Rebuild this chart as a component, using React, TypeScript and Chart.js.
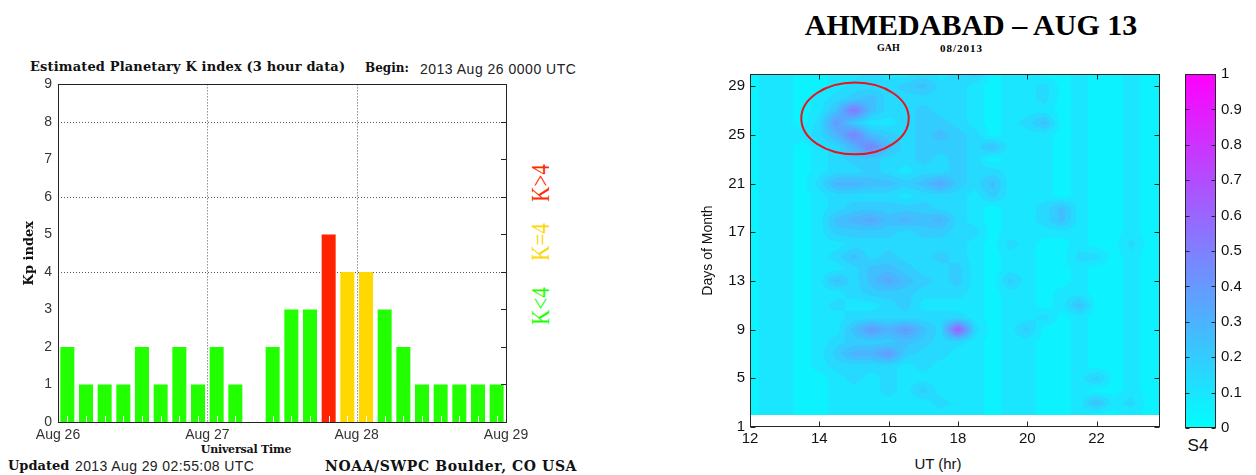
import React, { useEffect, useRef } from 'react';
import { Chart, registerables } from 'chart.js';

Chart.register(...registerables);

// ---------------- Left chart: Estimated Planetary K index ----------------
// start hour (from 2013 Aug 26 00 UT) of each 3-hour interval, and its Kp
const kpStartHours = [0, 3, 6, 9, 12, 15, 18, 21, 24, 27, 30, 33, 36, 39, 42, 45, 48, 51, 54, 57, 60, 63, 66, 69];
const kpValues = [2, 1, 1, 1, 2, 1, 2, 1, 2, 1, 0, 2, 3, 3, 5, 4, 4, 3, 2, 1, 1, 1, 1, 1];
const kpYTicks = [0, 1, 2, 3, 4, 5, 6, 7, 8, 9];
const kpDayHours = [0, 24, 48, 72];
const kpDayLabels = ['Aug 26', 'Aug 27', 'Aug 28', 'Aug 29'];
const kpDottedLevels = [4, 6, 8];
const kpDottedHours = [24, 48];
const KP_INTERVAL = 3;

// ---------------- Right chart: S4 over Ahmedabad ----------------
const s4Hours = [12, 12.5, 13, 13.5, 14, 14.5, 15, 15.5, 16, 16.5, 17, 17.5, 18, 18.5, 19, 19.5, 20, 20.5, 21, 21.5, 22, 22.5, 23, 23.5];
const s4Days = [30, 29, 28, 27, 26, 25, 24, 23, 22, 21, 20, 19, 18, 17, 16, 15, 14, 13, 12, 11, 10, 9, 8, 7, 6, 5, 4, 3, 2];
// each character = S4 band (hex digit k => S4 in [k*0.05, (k+1)*0.05)), one row per day, one char per half hour
const s4Rows = [
  '122112232232341221121121', // 30
  '122112333453321223121121', // 29
  '122123453333321223121121', // 28
  '122125B53343321222121121', // 27
  '122138422344321235121121', // 26
  '122236A54345431222121121', // 25
  '1221236A5344435222121121', // 24
  '122123443343431222121121', // 23
  '122123343233433222121121', // 22
  '122136655457435222121121', // 21
  '122123333233324222121121', // 20
  '122123444443321223521121', // 19
  '122125675656321223521121', // 18
  '122124444344331222221121', // 17
  '122122333333321321121131', // 16
  '122123534334321221133121', // 15
  '122122355433421221121121', // 14
  '122125357543421421121121', // 13
  '122122344433321221221121', // 12
  '122123223422221221251121', // 11
  '122122333333321223121121', // 10
  '122122586853D31241121121', // 9
  '122123444543321221121121', // 8
  '122124668433221221121121', // 7
  '122123333232221221121121', // 6
  '122112323222221221124121', // 5
  '122112223242221221121121', // 4
  '122112222223221221125231', // 3
  '122112222222221221121121', // 2
];
const s4XTicks = [12, 14, 16, 18, 20, 22];
const s4YTicks = [1, 5, 9, 13, 17, 21, 25, 29];
const s4BarTicks = [0, 0.1, 0.2, 0.3, 0.4, 0.5, 0.6, 0.7, 0.8, 0.9, 1];
const circleCenter = { hour: 15.03, day: 26.35 };
const circleRadius = { hour: 1.55, day: 2.95 };

const S4_BAND = 0.05;
const s4Grid = s4Rows.map((r) => r.split('').map((c) => (parseInt(c, 16) + 0.5) * S4_BAND));

function cool(t: number): [number, number, number] {
  const v = Math.max(0, Math.min(1, t));
  return [Math.round(255 * v), Math.round(255 * (1 - v)), 255];
}

function fracIndex(arr: number[], v: number): number {
  const n = arr.length;
  for (let i = 0; i < n - 1; i++) {
    const a = arr[i];
    const b = arr[i + 1];
    if ((v - a) * (v - b) <= 0) return i + (v - a) / (b - a);
  }
  const dFirst = Math.abs(v - arr[0]);
  const dLast = Math.abs(v - arr[n - 1]);
  return dFirst < dLast ? 0 : n - 1;
}

const SANS = "'Liberation Sans', Arial, sans-serif";
const SERIF_B = "'DejaVu Serif', serif";

const kpColor = (v: number) => (v > 4 ? '#ff2200' : v === 4 ? '#ffd800' : '#22ff00');

const kpDecor = {
  id: 'kpDecor',
  beforeDatasetsDraw(chart: any) {
    const { ctx, chartArea: a, scales } = chart;
    const ys = scales.y;
    const xs = scales.x;
    ctx.save();
    ctx.strokeStyle = '#555';
    ctx.lineWidth = 1;
    ctx.setLineDash([1, 2]);
    kpDottedLevels.forEach((v) => {
      const py = Math.round(ys.getPixelForValue(v)) + 0.5;
      ctx.beginPath();
      ctx.moveTo(a.left, py);
      ctx.lineTo(a.right, py);
      ctx.stroke();
    });
    kpDottedHours.forEach((h) => {
      const px = Math.round(xs.getPixelForValue(h)) + 0.5;
      ctx.beginPath();
      ctx.moveTo(px, a.top);
      ctx.lineTo(px, a.bottom);
      ctx.stroke();
    });
    ctx.restore();
  },
  afterDatasetsDraw(chart: any) {
    const { ctx, chartArea: a, scales } = chart;
    const xs = scales.x;
    const ys = scales.y;
    ctx.save();
    ctx.lineWidth = 1;
    ctx.strokeStyle = '#ffffff';
    kpStartHours.forEach((h) => {
      const px = Math.round(xs.getPixelForValue(h + KP_INTERVAL / 2)) + 0.5;
      ctx.beginPath();
      ctx.moveTo(px, a.bottom - 6);
      ctx.lineTo(px, a.bottom);
      ctx.stroke();
    });
    ctx.strokeStyle = '#222';
    ctx.strokeRect(Math.round(a.left) + 0.5, Math.round(a.top) + 0.5, Math.round(a.right - a.left), Math.round(a.bottom - a.top));
    kpYTicks.forEach((v) => {
      const py = Math.round(ys.getPixelForValue(v)) + 0.5;
      ctx.beginPath();
      ctx.moveTo(a.right, py);
      ctx.lineTo(a.right - 5, py);
      ctx.stroke();
    });
    ctx.restore();
  },
};

const heatPlugin = {
  id: 'heat',
  beforeDatasetsDraw(chart: any) {
    const { ctx, chartArea: a, scales } = chart;
    const xs = scales.x;
    const ys = scales.y;
    const left = Math.round(a.left);
    const top = Math.round(a.top);
    const w = Math.round(a.right) - left;
    const h = Math.round(a.bottom) - top;
    const off = document.createElement('canvas');
    off.width = w;
    off.height = h;
    const octx = off.getContext('2d')!;
    const img = octx.createImageData(w, h);
    const minDay = Math.min(...s4Days);
    const maxDay = Math.max(...s4Days);
    const colF: number[] = [];
    for (let i = 0; i < w; i++) colF.push(fracIndex(s4Hours, xs.getValueForPixel(left + i + 0.5)));
    for (let j = 0; j < h; j++) {
      const day = ys.getValueForPixel(top + j + 0.5);
      if (day < minDay || day > maxDay + 0.5) continue;
      const rf = fracIndex(s4Days, day);
      const r0 = Math.floor(rf);
      const r1 = Math.min(r0 + 1, s4Days.length - 1);
      const fr = rf - r0;
      for (let i = 0; i < w; i++) {
        const cf = colF[i];
        const c0 = Math.floor(cf);
        const c1 = Math.min(c0 + 1, s4Hours.length - 1);
        const fc = cf - c0;
        const v =
          s4Grid[r0][c0] * (1 - fr) * (1 - fc) +
          s4Grid[r0][c1] * (1 - fr) * fc +
          s4Grid[r1][c0] * fr * (1 - fc) +
          s4Grid[r1][c1] * fr * fc;
        const band = Math.floor(v / S4_BAND);
        // filled contour: each band painted with the colour of its lower level
        const [r, g, b] = cool(band * S4_BAND);
        const k = (j * w + i) * 4;
        img.data[k] = r;
        img.data[k + 1] = g;
        img.data[k + 2] = b;
        img.data[k + 3] = 255;
      }
    }
    octx.putImageData(img, 0, 0);
    ctx.drawImage(off, left, top);
  },
  afterDatasetsDraw(chart: any) {
    const { ctx, chartArea: a, scales } = chart;
    const xs = scales.x;
    const ys = scales.y;
    ctx.save();
    const cx = xs.getPixelForValue(circleCenter.hour);
    const cy = ys.getPixelForValue(circleCenter.day);
    const rx = Math.abs(xs.getPixelForValue(circleCenter.hour + circleRadius.hour) - cx);
    const ry = Math.abs(ys.getPixelForValue(circleCenter.day + circleRadius.day) - cy);
    ctx.strokeStyle = '#e8141c';
    ctx.lineWidth = 2;
    ctx.beginPath();
    ctx.ellipse(cx, cy, rx, ry, 0, 0, Math.PI * 2);
    ctx.stroke();
    ctx.lineWidth = 1;
    ctx.strokeStyle = '#262626';
    const L = Math.round(a.left) + 0.5;
    const T = Math.round(a.top) + 0.5;
    const R = Math.round(a.right) - 0.5;
    const B = Math.round(a.bottom) - 0.5;
    ctx.strokeRect(L, T, R - L, B - T);
    s4XTicks.forEach((v) => {
      const px = Math.round(xs.getPixelForValue(v)) + 0.5;
      ctx.beginPath();
      ctx.moveTo(px, B);
      ctx.lineTo(px, B - 5);
      ctx.moveTo(px, T);
      ctx.lineTo(px, T + 5);
      ctx.stroke();
    });
    s4YTicks.forEach((v) => {
      const py = Math.round(ys.getPixelForValue(v)) + 0.5;
      ctx.beginPath();
      ctx.moveTo(L, py);
      ctx.lineTo(L + 5, py);
      ctx.moveTo(R, py);
      ctx.lineTo(R - 5, py);
      ctx.stroke();
    });
    ctx.restore();
  },
};

const barPlugin = {
  id: 'colorbar',
  beforeDatasetsDraw(chart: any) {
    const { ctx, chartArea: a, scales } = chart;
    const ys = scales.y;
    const y0 = ys.getPixelForValue(0);
    const y1 = ys.getPixelForValue(1);
    const grad = ctx.createLinearGradient(0, y0, 0, y1);
    const c0 = cool(0);
    const c1 = cool(1);
    grad.addColorStop(0, `rgb(${c0[0]},${c0[1]},${c0[2]})`);
    grad.addColorStop(1, `rgb(${c1[0]},${c1[1]},${c1[2]})`);
    ctx.save();
    ctx.fillStyle = grad;
    ctx.fillRect(a.left, y1, a.right - a.left, y0 - y1);
    ctx.strokeStyle = '#262626';
    ctx.lineWidth = 1;
    const L = Math.round(a.left) + 0.5;
    const R = Math.round(a.right) - 0.5;
    ctx.strokeRect(L, Math.round(y1) + 0.5, R - L, Math.round(y0 - y1) - 1);
    s4BarTicks.forEach((v) => {
      const py = Math.round(ys.getPixelForValue(v)) + 0.5;
      ctx.beginPath();
      ctx.moveTo(L, py);
      ctx.lineTo(L + 4, py);
      ctx.moveTo(R, py);
      ctx.lineTo(R - 4, py);
      ctx.stroke();
    });
    ctx.restore();
  },
};

function kpConfig(): any {
  return {
    type: 'bar',
    data: {
      datasets: [
        {
          data: kpStartHours.map((h, i) => ({ x: h + KP_INTERVAL / 2, y: kpValues[i] })),
          backgroundColor: kpValues.map(kpColor),
          borderWidth: 0,
          barPercentage: 0.75,
          categoryPercentage: 1,
        },
      ],
    },
    options: {
      animation: false,
      responsive: false,
      events: [],
      layout: { padding: { left: 0, top: 11, right: 54, bottom: 0 } },
      plugins: { legend: { display: false }, tooltip: { enabled: false } },
      scales: {
        x: {
          type: 'linear',
          position: 'bottom',
          offset: false,
          min: 0,
          max: 72,
          afterBuildTicks: (s: any) => {
            s.ticks = kpDayHours.map((v) => ({ value: v }));
          },
          afterFit: (s: any) => {
            s.height = 38;
          },
          grid: { display: false, drawTicks: false, offset: false },
          border: { display: false },
          ticks: {
            autoSkip: false,
            maxRotation: 0,
            padding: 5,
            color: '#333',
            font: { family: SANS, size: 14 },
            callback: (_v: any, i: number) => kpDayLabels[i],
          },
        },
        y: {
          min: 0,
          max: 9,
          afterBuildTicks: (s: any) => {
            s.ticks = kpYTicks.map((v) => ({ value: v }));
          },
          afterFit: (s: any) => {
            s.width = 58;
          },
          grid: { display: false, drawTicks: false },
          border: { display: false },
          ticks: { padding: 6, color: '#333', font: { family: SANS, size: 14 } },
          title: {
            display: true,
            text: 'Kp index',
            color: '#111',
            font: { family: SERIF_B, size: 13, weight: 'bold' },
            padding: { top: 22, bottom: 0 },
          },
        },
      },
    },
    plugins: [kpDecor],
  };
}

function s4Config(): any {
  return {
    type: 'scatter',
    data: { datasets: [{ data: [] }] },
    options: {
      animation: false,
      responsive: false,
      events: [],
      layout: { padding: { left: 0, top: 13, right: 20, bottom: 0 } },
      plugins: { legend: { display: false }, tooltip: { enabled: false } },
      scales: {
        x: {
          type: 'linear',
          min: 12,
          max: 23.83,
          afterBuildTicks: (s: any) => {
            s.ticks = s4XTicks.map((v) => ({ value: v }));
          },
          afterFit: (s: any) => {
            s.height = 48;
          },
          grid: { display: false, drawTicks: false },
          border: { display: false },
          ticks: { autoSkip: false, maxRotation: 0, padding: 3, color: '#111', font: { family: SANS, size: 15 } },
        },
        y: {
          type: 'linear',
          min: 1,
          max: 30,
          afterBuildTicks: (s: any) => {
            s.ticks = s4YTicks.map((v) => ({ value: v }));
          },
          afterFit: (s: any) => {
            s.width = 60;
          },
          grid: { display: false, drawTicks: false },
          border: { display: false },
          ticks: { padding: 5, color: '#111', font: { family: SANS, size: 15 } },
          title: {
            display: true,
            text: 'Days of Month',
            color: '#111',
            font: { family: SANS, size: 14 },
            padding: { top: 10, bottom: 0 },
          },
        },
      },
    },
    plugins: [heatPlugin],
  };
}

function cbConfig(): any {
  return {
    type: 'scatter',
    data: { datasets: [{ data: [] }] },
    options: {
      animation: false,
      responsive: false,
      events: [],
      layout: { padding: { left: 0, top: 14, right: 0, bottom: 47 } },
      plugins: { legend: { display: false }, tooltip: { enabled: false } },
      scales: {
        x: { type: 'linear', display: false, min: 0, max: 1 },
        y: {
          type: 'linear',
          position: 'right',
          min: 0,
          max: 1,
          afterBuildTicks: (s: any) => {
            s.ticks = s4BarTicks.map((v) => ({ value: v }));
          },
          afterFit: (s: any) => {
            s.width = 40;
          },
          grid: { display: false, drawTicks: false },
          border: { display: false },
          ticks: {
            padding: 5,
            color: '#111',
            font: { family: SANS, size: 15 },
            callback: (v: any) => String(v),
          },
        },
      },
    },
    plugins: [barPlugin],
  };
}

const abs = (s: React.CSSProperties): React.CSSProperties => ({
  position: 'absolute',
  whiteSpace: 'nowrap',
  lineHeight: 1,
  margin: 0,
  ...s,
});

export default function App() {
  const kpRef = useRef<HTMLCanvasElement>(null);
  const s4Ref = useRef<HTMLCanvasElement>(null);
  const cbRef = useRef<HTMLCanvasElement>(null);

  useEffect(() => {
    const charts = [
      new Chart(kpRef.current as HTMLCanvasElement, kpConfig()),
      new Chart(s4Ref.current as HTMLCanvasElement, s4Config()),
      new Chart(cbRef.current as HTMLCanvasElement, cbConfig()),
    ];
    return () => charts.forEach((c) => c.destroy());
  }, []);

  const serifB: React.CSSProperties = { fontFamily: SERIF_B, fontWeight: 'bold', color: '#111' };
  const sans: React.CSSProperties = { fontFamily: SANS, color: '#222' };
  const times: React.CSSProperties = { fontFamily: "'Liberation Serif', serif" };

  return (
    <div style={{ position: 'fixed', left: 0, top: 0, width: 1256, height: 475, background: '#fff', overflow: 'hidden' }}>
      {/* Left chart texts */}
      <div style={abs({ ...serifB, left: 30, top: 60, fontSize: 13, letterSpacing: 0.15 })}>Estimated Planetary K index (3 hour data)</div>
      <div style={abs({ ...serifB, left: 365, top: 62, fontSize: 12 })}>Begin:</div>
      <div style={abs({ ...sans, left: 420, top: 62, fontSize: 14, letterSpacing: 0.5 })}>2013 Aug 26 0000 UTC</div>
      <div style={abs({ ...serifB, left: 246, top: 449, fontSize: 11, letterSpacing: -0.2, transform: 'translate(-50%,-50%)' })}>Universal Time</div>
      <div style={abs({ ...times, color: '#ff2a00', fontSize: 21, left: 541, top: 183, transform: 'translate(-50%,-50%) rotate(-90deg) scaleY(1.2)' })}>K&gt;4</div>
      <div style={abs({ ...times, color: '#ffd700', fontSize: 21, left: 541, top: 242, transform: 'translate(-50%,-50%) rotate(-90deg) scaleY(1.2)' })}>K=4</div>
      <div style={abs({ ...times, color: '#22ff00', fontSize: 21, left: 541, top: 306, transform: 'translate(-50%,-50%) rotate(-90deg) scaleY(1.2)' })}>K&lt;4</div>
      <div style={abs({ ...serifB, left: 8, top: 459, fontSize: 13 })}>Updated</div>
      <div style={abs({ ...sans, left: 75, top: 459, fontSize: 14, letterSpacing: 0.4 })}>2013 Aug 29 02:55:08 UTC</div>
      <div style={abs({ ...serifB, left: 325, top: 459, fontSize: 14, letterSpacing: 0.6 })}>NOAA/SWPC Boulder, CO USA</div>

      {/* Right chart texts */}
      <div style={abs({ ...times, fontWeight: 'bold', color: '#000', fontSize: 30, left: 971, top: 25, transform: 'translate(-50%,-50%)' })}>AHMEDABAD – AUG 13</div>
      <div style={abs({ ...times, fontWeight: 'bold', color: '#000', fontSize: 10, left: 877, top: 43 })}>GAH</div>
      <div style={abs({ ...times, fontWeight: 'bold', color: '#000', fontSize: 11, letterSpacing: 1, left: 940, top: 43 })}>08/2013</div>
      <div style={abs({ fontFamily: SANS, color: '#111', fontSize: 15, left: 938, top: 463, transform: 'translate(-50%,-50%)' })}>UT (hr)</div>
      <div style={abs({ fontFamily: SANS, color: '#111', fontSize: 17, left: 1198, top: 445, transform: 'translate(-50%,-50%)' })}>S4</div>

      <canvas ref={kpRef} width={560} height={390} style={{ position: 'absolute', left: 0, top: 70, width: 560, height: 390 }} />
      <canvas ref={s4Ref} width={490} height={415} style={{ position: 'absolute', left: 690, top: 60, width: 490, height: 415 }} />
      <canvas ref={cbRef} width={71} height={415} style={{ position: 'absolute', left: 1185, top: 60, width: 71, height: 415 }} />
    </div>
  );
}
